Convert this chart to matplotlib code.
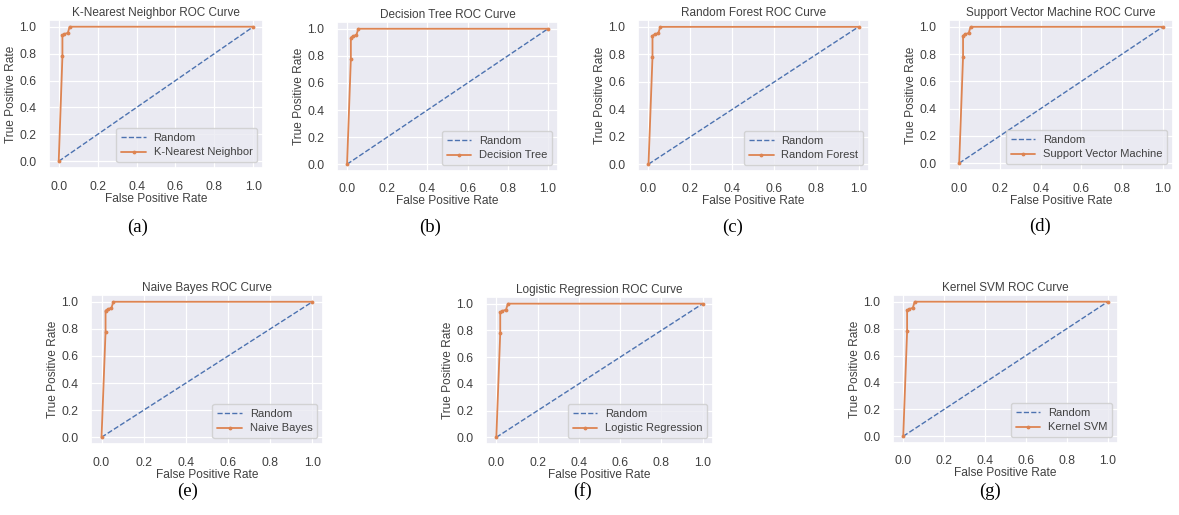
import matplotlib
matplotlib.use("Agg")
import matplotlib.pyplot as plt
import seaborn as sns

sns.set_theme(style="darkgrid")
plt.rcParams['font.family'] = ['Liberation Sans', 'DejaVu Sans']

models = ["K-Nearest Neighbor", "Decision Tree", "Random Forest",
          "Support Vector Machine", "Naive Bayes", "Logistic Regression", "Kernel SVM"]
captions = ["(a)", "(b)", "(c)", "(d)", "(e)", "(f)", "(g)"]

fpr = [0.0, 0.019, 0.019, 0.029, 0.047, 0.056, 1.0]
tpr = [0.0, 0.78, 0.935, 0.945, 0.955, 1.0, 1.0]
rand_x = [0.0, 1.0]
rand_y = [0.0, 1.0]
ticks = [0.0, 0.2, 0.4, 0.6, 0.8, 1.0]

W, H = 1179, 515
# axes boxes in pixels: left, right, top, bottom
boxes = [
    (49, 263, 20, 168),
    (337, 558, 22, 171),
    (638, 869, 20, 171),
    (949, 1173, 20, 170),
    (91, 323, 295, 444),
    (486, 713, 297, 444),
    (893, 1118, 295, 443),
]
cap_pos = [(138, 227), (430, 227), (733, 227), (1040, 226),
           (188, 491), (583, 491), (990, 491)]

fig = plt.figure(figsize=(W / 100, H / 100), dpi=100)
fig.patch.set_facecolor("white")

blue = "#4C72B0"
orange = "#DD8452"
tc = "#404040"

for name, cap, (l, r, t, b), (cx, cy) in zip(models, captions, boxes, cap_pos):
    ax = fig.add_axes([l / W, 1 - b / H, (r - l) / W, (b - t) / H])
    ax.plot(rand_x, rand_y, linestyle="--", color=blue, lw=1.0, label="Random")
    ax.plot(fpr, tpr, marker=".", markersize=3.5, color=orange, lw=1.3, label=name)
    ax.set_xticks(ticks)
    ax.set_yticks(ticks)
    ax.tick_params(labelsize=8.8, colors=tc, pad=3)
    ax.set_title(f"{name} ROC Curve", fontsize=8.5, color=tc, pad=3)
    ax.set_xlabel("False Positive Rate", fontsize=8.6, color=tc, labelpad=0)
    ax.set_ylabel("True Positive Rate", fontsize=8.6, color=tc, labelpad=2)
    ax.grid(color="white", lw=0.9)
    leg = ax.legend(loc="lower right", fontsize=8, handlelength=2.2,
                    handletextpad=0.7, borderpad=0.45, labelspacing=0.4,
                    framealpha=0.8)
    for txt in leg.get_texts():
        txt.set_color(tc)
    fig.text(cx / W, 1 - cy / H, cap, ha="center", va="center",
             fontsize=13.5, family="Liberation Serif", color="black")

fig.savefig("out.png", dpi=100)
